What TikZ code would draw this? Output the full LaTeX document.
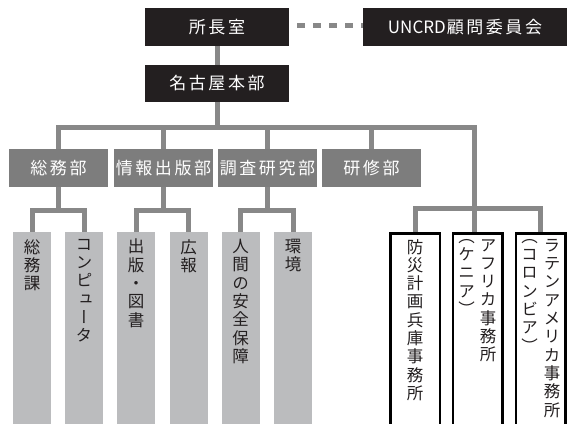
\documentclass[tikz,border=0pt]{standalone}
\usepackage{fontspec}
\setmainfont{Noto Sans CJK JP}
\newfontfamily\hfont[LetterSpace=15]{Noto Sans CJK JP}
\newfontfamily\lfont{Noto Sans CJK JP}
\newfontfamily\vfont[RawFeature=+vert]{Noto Sans CJK JP}
\usetikzlibrary{backgrounds}
\definecolor{topc}{HTML}{231F20}
\definecolor{midc}{HTML}{7D7D7D}
\definecolor{linec}{HTML}{888888}
\definecolor{leafc}{HTML}{BBBCBE}
\tikzset{
  topbox/.style={fill=topc, text=white, font=\hfont\fontsize{17}{20}\selectfont,
    minimum width=144pt, minimum height=38pt, inner sep=0pt},
  deptbox/.style={fill=midc, text=white, font=\hfont\fontsize{17}{20}\selectfont,
    minimum width=99pt, minimum height=38pt, inner sep=0pt},
  leafbox/.style={fill=leafc, minimum width=38pt, minimum height=195pt, inner sep=0pt, anchor=north},
  officebox/.style={draw=black, line width=2.5pt, fill=white, minimum width=49.5pt,
    minimum height=200pt, inner sep=0pt, anchor=north},
  vtext/.style={font=\vfont\fontsize{16.5}{18.3}\selectfont, align=center, anchor=north,
    inner sep=0pt, text=topc},
  conn/.style={draw=linec, line width=5pt},
  dashconn/.style={draw=linec, line width=5pt, dash pattern=on 8pt off 8pt}
}
\begin{document}
\begin{tikzpicture}[x=1pt,y=-1pt]
\useasboundingbox (0,0) rectangle (569,423);
% top level
\node[topbox] (boss) at (217,27) {所長室};
\node[topbox, minimum width=204pt] (uncrd) at (465,27) {{\lfont UNCRD}\kern1pt顧問委員会};
\node[topbox, minimum height=37pt] (hq) at (217,83.5) {名古屋本部};
% departments
\node[deptbox] (d1) at (58.5,168) {総務部};
\node[deptbox] (d2) at (163.5,168) {情報出版部};
\node[deptbox] (d3) at (267.5,168) {調査研究部};
\node[deptbox] (d4) at (371.5,168) {研修部};
% leaves
\node[leafbox] (l1) at (32,232) {};
\node[leafbox] (l2) at (84,232) {};
\node[leafbox] (l3) at (136,232) {};
\node[leafbox] (l4) at (188.5,232) {};
\node[leafbox] (l5) at (240.5,232) {};
\node[leafbox] (l6) at (293,232) {};
\node[vtext] (t1) at (32,239) {総\\務\\課};
\node[vtext] (t2) at (84,239) {コ\\ン\\ピ\\ュ\\ー\\タ};
\node[vtext] (t3) at (136,239) {出\\版\\・\\図\\書};
\node[vtext] (t4) at (188.5,239) {広\\報};
\node[vtext] (t5) at (240.5,239) {人\\間\\の\\安\\全\\保\\障};
\node[vtext] (t6) at (293,239) {環\\境};
% offices
\node[officebox] (o1) at (415,232.2) {};
\node[officebox] (o2) at (477.5,232.2) {};
\node[officebox] (o3) at (540.5,232.2) {};
\node[vtext] (t7) at (415,239) {防\\災\\計\\画\\兵\\庫\\事\\務\\所};
\node[vtext] (t8r) at (488,239) {ア\\フ\\リ\\カ\\事\\務\\所};
\node[vtext] (t8l) at (466.5,239) {（\\ケ\\ニ\\ア\\）};
\node[vtext] (t9r) at (552,239) {ラ\\テ\\ン\\ア\\メ\\リ\\カ\\事\\務\\所};
\node[vtext] (t9l) at (529.5,239) {（\\コ\\ロ\\ン\\ビ\\ア\\）};
% connectors
\coordinate (dy) at (0,25);
\coordinate (bus) at (0,127);
\coordinate (sub) at (0,210);
\coordinate (osub) at (0,208);
\coordinate (rt) at (474.5,127);
\begin{scope}[on background layer]
\draw[dashconn] (boss.east |- dy) ++(8,0) -- (uncrd.west |- dy);
\draw[conn] (boss.south) -- (hq.north);
\draw[conn] (hq.south) -- (hq.south |- bus);
\draw[conn] (d1.north) |- (rt) -- (rt |- o2.north);
\draw[conn] (d2.north) -- (d2.north |- bus);
\draw[conn] (d3.north) -- (d3.north |- bus);
\draw[conn] (d4.north) -- (d4.north |- bus);
\draw[conn] (o1.north) |- (o3.north |- osub) -- (o3.north);
\draw[conn] (d1.south) -- (d1.south |- sub);
\draw[conn] (d2.south) -- (d2.south |- sub);
\draw[conn] (d3.south) -- (d3.south |- sub);
\draw[conn] (l1.north) |- (l2.north |- sub) -- (l2.north);
\draw[conn] (l3.north) |- (l4.north |- sub) -- (l4.north);
\draw[conn] (l5.north) |- (l6.north |- sub) -- (l6.north);
\end{scope}
\end{tikzpicture}
\end{document}
